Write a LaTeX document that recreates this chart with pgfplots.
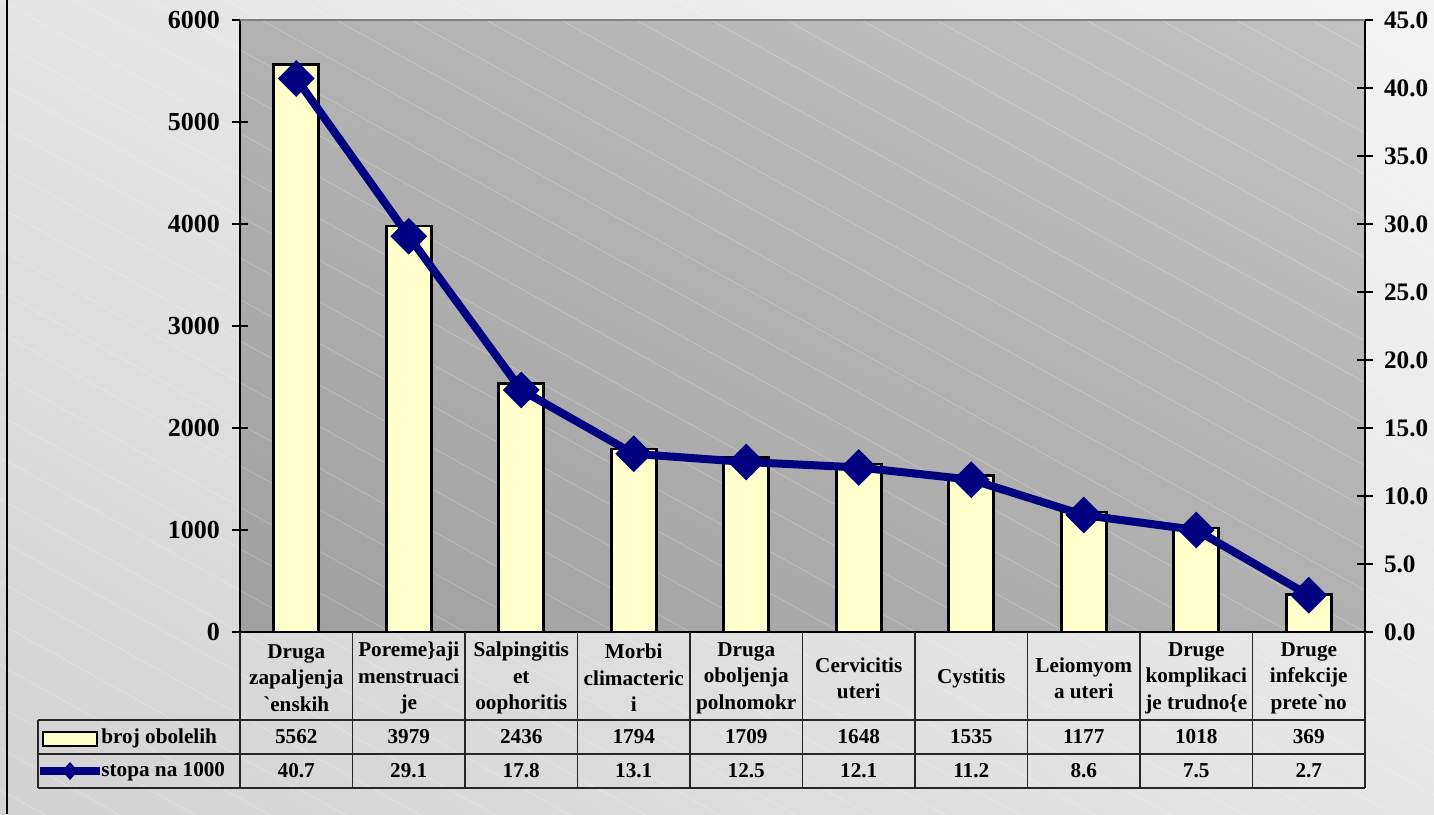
\documentclass[border=0pt]{standalone}
\usepackage{pgfplots}
\pgfplotsset{compat=1.18}
\usepackage{pgfplotstable}
\usetikzlibrary{shadings}
\usepackage{fontspec}
\setmainfont{Liberation Serif}[Ligatures=TeXOff]
\definecolor{barfill}{HTML}{FFFFCC}
\definecolor{navyline}{HTML}{000080}
\definecolor{oUL}{RGB}{228,228,228}
\definecolor{oUR}{RGB}{244,244,244}
\definecolor{oLL}{RGB}{210,210,210}
\definecolor{oLR}{RGB}{230,230,230}
\definecolor{pUL}{RGB}{178,178,178}
\definecolor{pUR}{RGB}{194,194,194}
\definecolor{pLL}{RGB}{160,160,160}
\definecolor{pLR}{RGB}{176,176,176}

\pgfplotstableread{
x n s
0 5562 40.7
1 3979 29.1
2 2436 17.8
3 1794 13.1
4 1709 12.5
5 1648 12.1
6 1535 11.2
7 1177 8.6
8 1018 7.5
9 369 2.7
}\data

\begin{document}
\begin{tikzpicture}
\path[use as bounding box] (0,0) rectangle (717pt,407pt);
% outer background
\shade[upper left=oUL, upper right=oUR, lower left=oLL, lower right=oLR]
  (0,0) rectangle (717pt,407pt);
% plot area background
\shade[upper left=pUL, upper right=pUR, lower left=pLL, lower right=pLR]
  (120pt,91pt) rectangle (682.5pt,397pt);
% faint diagonal stripes
\begin{scope}
\clip (0,0) rectangle (717pt,407pt);
\foreach \i in {-22,...,20}{
  \draw[white, opacity=0.25, line width=0.4pt] (\i*37.5pt,407pt) -- ++(-29:1000pt);
}
\end{scope}

\begin{axis}[
  at={(120pt,91pt)}, anchor=south west,
  scale only axis, width=562.5pt, height=306pt,
  xmin=-0.5, xmax=9.5, ymin=0, ymax=6000,
  axis y line*=left, axis x line*=bottom,
  axis line style={black, line width=1pt},
  ybar, bar width=22.5pt,
  ytick={0,1000,...,6000},
  scaled y ticks=false,
  /pgf/number format/1000 sep={},
  /pgf/number format/assume math mode=true,
  major tick length=8pt, tick align=center,
  ytick style={black, line width=0.8pt},
  yticklabel style={font=\bfseries\fontsize{13}{15}\selectfont, anchor=east, xshift=-2.5pt},
  xtick={0,...,9},
  xtick style={draw=none},
  xticklabels={{Druga\\zapaljenja\\`enskih},{Poreme\}aji\\menstruaci\\je},{Salpingitis\\et\\oophoritis},
    {Morbi\\climacteric\\i},{Druga\\oboljenja\\polnomokr},{Cervicitis\\uteri},{Cystitis},
    {Leiomyom\\a uteri},{Druge\\komplikaci\\je trudno\{e},{Druge\\infekcije\\prete`no}},
  xticklabel style={font=\bfseries\fontsize{10.6}{13.2}\selectfont, align=center, anchor=center, yshift=-19pt},
  clip=false,
]
\addplot[fill=barfill, draw=black, line width=1.3pt] table[x=x, y=n]{\data};
\end{axis}

\begin{axis}[
  at={(120pt,91pt)}, anchor=south west,
  scale only axis, width=562.5pt, height=306pt,
  xmin=-0.5, xmax=9.5, ymin=0, ymax=45,
  axis y line*=right, axis x line=none,
  axis line style={black, line width=1pt},
  ytick={0,5,...,45},
  /pgf/number format/assume math mode=true,
  yticklabel style={font=\bfseries\fontsize{12.6}{15}\selectfont, anchor=west, xshift=2pt,
    /pgf/number format/.cd, fixed, fixed zerofill, precision=1},
  major tick length=8pt, tick align=center,
  ytick style={black, line width=0.8pt},
  clip=false,
]
\addplot[navyline, line width=4pt, mark=square*, mark size=4.5pt, mark options={rotate=45, solid}]
  table[x=x, y=s]{\data};
% data-table rows (values read from the same table)
\addplot[draw=none, mark=none, nodes near coords, point meta=explicit symbolic,
  nodes near coords align={center},
  every node near coord/.append style={anchor=center, font=\bfseries\fontsize{10.6}{12}\selectfont, black}]
  table[x=x, y expr=-7.72, meta=n]{\data};
\addplot[draw=none, mark=none, nodes near coords, point meta=explicit symbolic,
  nodes near coords align={center},
  every node near coord/.append style={anchor=center, font=\bfseries\fontsize{10.6}{12}\selectfont, black}]
  table[x=x, y expr=-10.22, meta=s]{\data};
\end{axis}

% frame and data-table grid in pixel coordinates
\begin{scope}[x=0.5pt, y=-0.5pt, shift={(0pt,407pt)}]
  \draw[black, line width=1pt] (7,0) -- (7,814);
  \draw[gray, line width=1pt] (240,20) -- (1365,20);
  \draw[black!85, line width=0.9pt] (38,720) -- (1365,720) (38,754) -- (1365,754) (38,788) -- (1365,788);
  \draw[black!85, line width=0.9pt] (38,720) -- (38,788);
  \foreach \k in {0,...,10}{
    \draw[black!85, line width=0.9pt] (240+112.5*\k,632) -- (240+112.5*\k,788);
  }
  % legend keys
  \draw[black, line width=1.2pt, fill=barfill] (43,732) rectangle (97,746);
  \node[anchor=west, inner sep=0pt, font=\bfseries\fontsize{10.6}{12}\selectfont] at (101,738) {broj obolelih};
  \draw[navyline, line width=4pt] (40,771) -- (100,771);
  \fill[navyline] (70,762) -- (78,771) -- (70,780) -- (62,771) -- cycle;
  \node[anchor=west, inner sep=0pt, font=\bfseries\fontsize{10.6}{12}\selectfont] at (101,772) {stopa na 1000};
\end{scope}
\end{tikzpicture}
\end{document}
